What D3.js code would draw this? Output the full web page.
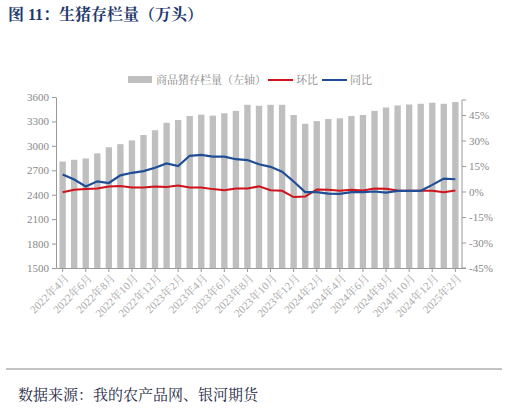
<!DOCTYPE html><html><head><meta charset="utf-8"><script src="https://cdn.jsdelivr.net/npm/d3@7"></script>
<style>body{margin:0;background:#fff}</style></head><body><svg id="c" width="508" height="412"></svg><script>
const months=[];for(let i=0;i<35;i++){const m=(3+i)%12+1,y=2022+Math.floor((3+i)/12);months.push(y+"年"+m+"月");}
const stock=[2808,2829,2845,2908,2983,3021,3067,3133,3192,3283,3317,3367,3383,3371,3400,3429,3504,3492,3504,3504,3379,3271,3304,3329,3338,3367,3379,3429,3471,3496,3508,3517,3529,3517,3538];
const mom=[-0.5,1,1.5,1.8,3,3.2,2.3,2.3,3,2.7,3.5,2.3,2.3,1.4,0.8,1.8,1.8,3,0.8,0.4,-3.3,-3,1.2,1,0.4,1,0.6,1.8,1.6,0.6,0.4,0.5,0.4,-0.4,0.6];
const yoy=[10,7,3,6,5,9.5,11,12,14,16.5,15,21,21.5,20.5,20.5,19,18.5,16,14.5,11.7,5.9,-0.4,-0.4,-1.2,-1.4,-0.4,-0.4,0,-0.6,0.4,0.4,0.4,3.9,7.6,7.2];
const leftTicks=[1500,1800,2100,2400,2700,3000,3300,3600];
const rightTicks=[-45,-30,-15,0,15,30,45];
const svg=d3.select("#c");const serif="'Liberation Serif','Noto Serif CJK SC','Noto Sans CJK SC',serif";
const x=d3.scaleBand().domain(months).range([56,462]).paddingInner(0.45).paddingOuter(0.3);
const yl=d3.scaleLinear().domain([1500,3600]).range([268,97]);
const yr=d3.scaleLinear().domain([-45,45]).range([268,115]);
svg.append("text").attr("x",8).attr("y",20).text("图 11：生猪存栏量（万头）").attr("font-family",serif).attr("font-weight","bold").attr("font-size",16).attr("fill","#1f3a6e");
svg.selectAll("rect.b").data(stock).join("rect").attr("x",(d,i)=>x(months[i])).attr("width",x.bandwidth()).attr("y",d=>yl(d)).attr("height",d=>268-yl(d)).attr("fill","#bfbfbf");
const ax=svg.append("g").attr("transform","translate(56,0)").call(d3.axisLeft(yl).tickValues(leftTicks).tickFormat(d3.format("d")).tickSize(4).tickSizeOuter(0));
const ar=svg.append("g").attr("transform","translate(462,0)").call(d3.axisRight(yr).tickValues(rightTicks).tickFormat(d=>d+"%").tickSize(4).tickSizeOuter(0));
ar.select(".domain").attr("d","M4,100H0V268H4");
const ab=svg.append("g").attr("transform","translate(0,268)").call(d3.axisBottom(x).tickValues(months.filter((d,i)=>i%2==0)).tickSize(4).tickSizeOuter(0));
ab.selectAll(".tick text").attr("transform","translate(2,6) rotate(-45)").attr("text-anchor","end").attr("dx",0).attr("dy",0);
[ax,ar,ab].forEach(g=>{g.selectAll("path,line").attr("stroke","#999");g.selectAll("text").attr("fill","#888").attr("font-family",serif).attr("font-size",11);});
ab.selectAll("text").attr("font-size",11).attr("fill","#aaa");
const cx=(d,i)=>x(months[i])+x.bandwidth()/2;
svg.append("path").attr("d",d3.line().x(cx).y(d=>yr(d))(mom)).attr("fill","none").attr("stroke","#d0121b").attr("stroke-width",2);
svg.append("path").attr("d",d3.line().x(cx).y(d=>yr(d))(yoy)).attr("fill","none").attr("stroke","#1f4e97").attr("stroke-width",2.2);
const lg=svg.append("g").attr("font-family",serif).attr("font-size",11).attr("fill","#888");
lg.append("rect").attr("x",128).attr("y",76).attr("width",24).attr("height",7).attr("fill","#bfbfbf");
lg.append("text").attr("x",156).attr("y",84).text("商品猪存栏量（左轴）");
lg.append("line").attr("x1",268).attr("x2",293).attr("y1",80).attr("y2",80).attr("stroke","#d0121b").attr("stroke-width",2);
lg.append("text").attr("x",296).attr("y",84).text("环比");
lg.append("line").attr("x1",322).attr("x2",347).attr("y1",80).attr("y2",80).attr("stroke","#1f4e97").attr("stroke-width",2);
lg.append("text").attr("x",350).attr("y",84).text("同比");
svg.append("line").attr("x1",6).attr("x2",502).attr("y1",369).attr("y2",369).attr("stroke","#888").attr("stroke-width",1);
svg.append("text").attr("x",18).attr("y",400).text("数据来源：我的农产品网、银河期货").attr("font-family",serif).attr("font-size",15).attr("fill","#1f2a44");
</script></body></html>
